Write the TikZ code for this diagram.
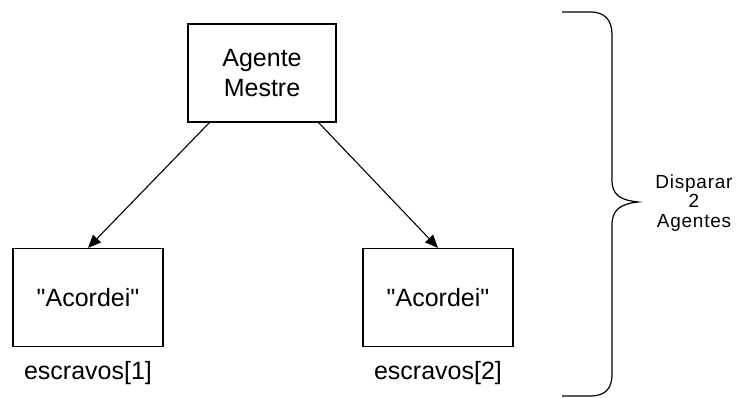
\documentclass[tikz,border=0pt]{standalone}
\usepackage{fontspec}
\setmainfont{Liberation Sans}
\newfontfamily\widefont[LetterSpace=4]{Liberation Sans}
\usetikzlibrary{arrows.meta, positioning}

\begin{document}
\begin{tikzpicture}[
    x=1pt, y=-1pt,
    node distance=14pt,
    block/.style={rectangle, draw, line width=1.2pt, minimum width=148pt, minimum height=98pt, align=center, inner sep=0pt, font=\fontsize{25}{30}\selectfont},
    tag/.style={inner sep=0pt, font=\fontsize{25}{30}\selectfont},
    arrow/.style={-{Triangle[length=13pt, width=11pt]}, line width=1.1pt},
]
    \useasboundingbox (0,0) rectangle (738,398);
    \node[block] (master) at (262,73) {Agente\\Mestre};
    \node[block, minimum width=150pt] (slave1) at (88,297.5) {\textquotedbl Acordei\textquotedbl};
    \node[block, minimum width=150pt] (slave2) at (438,297.5) {\textquotedbl Acordei\textquotedbl};
    \node[tag, below=of slave1] (name1) {escravos[1]};
    \node[tag, below=of slave2] (name2) {escravos[2]};

    \draw[arrow] ([xshift=22pt]master.south west) -- (slave1.north);
    \draw[arrow] ([xshift=-18pt]master.south east) -- (slave2.north);

    % chave
    \draw[line width=1.2pt] (562,12) -- (590,12) .. controls (605,12) and (612,20) .. (612,35)
        -- (612,180) .. controls (612,195) and (620,200) .. (638,202)
        .. controls (620,204) and (612,210) .. (612,225)
        -- (612,374) .. controls (612,389) and (605,396) .. (590,396) -- (562,396);
    \node[align=center, inner sep=0pt, font=\widefont\fontsize{19}{19.5}\selectfont] (fire) at (694,203) {Disparar\\2\\Agentes};
\end{tikzpicture}
\end{document}
